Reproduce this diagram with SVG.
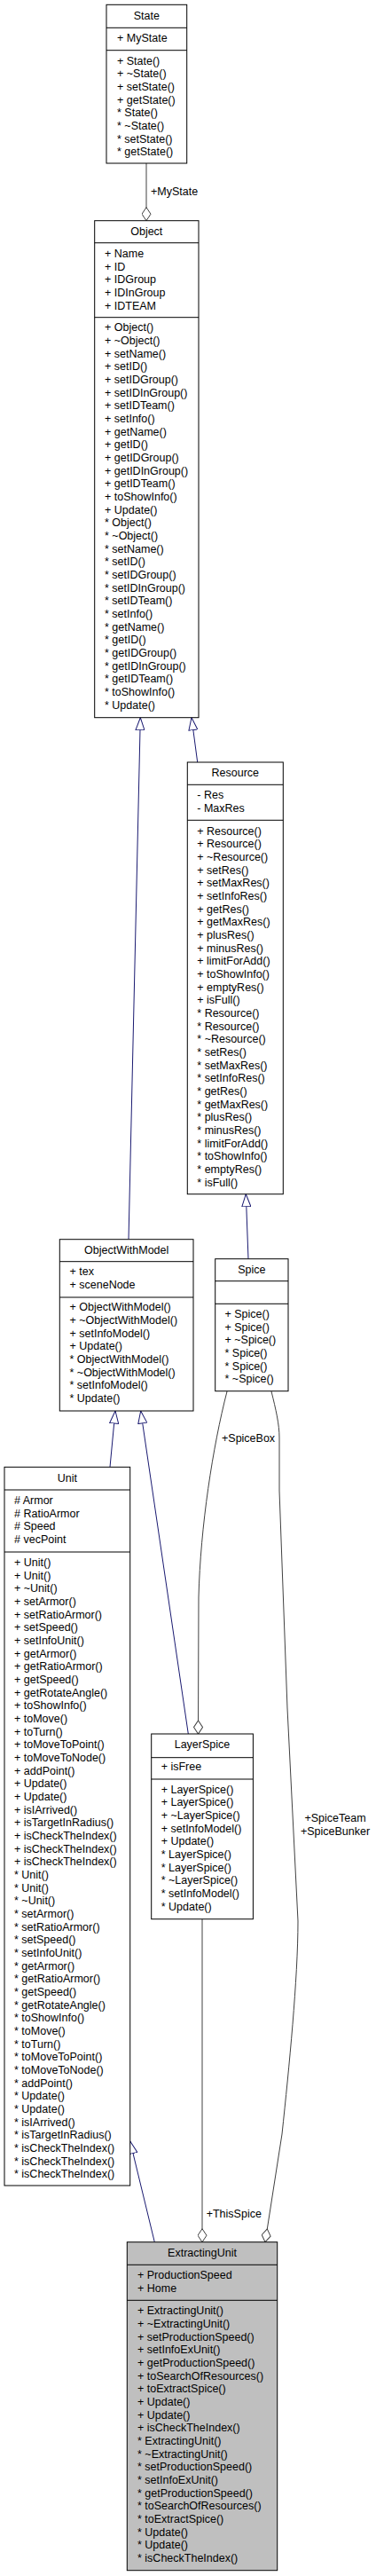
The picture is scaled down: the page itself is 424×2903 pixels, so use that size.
<svg xmlns="http://www.w3.org/2000/svg" width="424" height="2903" viewBox="0 0 424 2903">
<style>
.box{fill:#ffffff;stroke:#000000;stroke-width:1}
.gbox{fill:#bfbfbf;stroke:#000000;stroke-width:1}
.sep{stroke:#000000;stroke-width:1}
.t{font-family:"Liberation Sans",Arial,sans-serif;font-size:12.5px;fill:#000000}
.c{text-anchor:middle}
.inh{stroke:#191970;stroke-width:1;fill:none}
.agg{stroke:#404040;stroke-width:1;fill:none}
</style>
<defs>
<marker id="tri" markerUnits="userSpaceOnUse" markerWidth="15" markerHeight="11" viewBox="0 0 15 11" refX="14.5" refY="5.5" orient="auto">
<path d="M0.5,0.5 L14.5,5.5 L0.5,10.5 Z" fill="#ffffff" stroke="#191970" stroke-width="1"/>
</marker>
<marker id="dia" markerUnits="userSpaceOnUse" markerWidth="16" markerHeight="11" viewBox="0 0 16 11" refX="15.5" refY="5.5" orient="auto">
<path d="M0.5,5.5 L8,0.5 L15.5,5.5 L8,10.5 Z" fill="#ffffff" stroke="#404040" stroke-width="1"/>
</marker>
</defs>

<g id="connectors">
<path class="agg" d="M165,184 L165,248.7" marker-end="url(#dia)"/>
<text class="t" x="170" y="220">+MyState</text>
<path class="inh" d="M145,1396.7 L158.3,808.7" marker-end="url(#tri)"/>
<path class="inh" d="M222.7,859 L216,808.7" marker-end="url(#tri)"/>
<path class="inh" d="M280,1418.7 L277.3,1345.7" marker-end="url(#tri)"/>
<path class="inh" d="M124,1653.3 L130,1590" marker-end="url(#tri)"/>
<path class="inh" d="M212.3,1954 L158.7,1590" marker-end="url(#tri)"/>
<path class="inh" d="M174.3,2526.7 L146.7,2413" marker-end="url(#tri)"/>
<path class="agg" d="M256,1568 C240,1630 226,1720 224,1800 L223.5,1954" marker-end="url(#dia)"/>
<text class="t" x="250" y="1625">+SpiceBox</text>
<path class="agg" d="M306,1568 C311,1588 315,1605 315,1620 L315,1680 L324,1925 L336,2165 C336,2230 326,2330 318,2405 L299,2526.7" marker-end="url(#dia)"/>
<text class="t c" x="378" y="2053.3">+SpiceTeam</text>
<text class="t c" x="378" y="2068">+SpiceBunker</text>
<path class="agg" d="M228,2162.7 L228,2526.7" marker-end="url(#dia)"/>
<text class="t" x="232.7" y="2499">+ThisSpice</text>
</g>

<g id="State">
<rect class="box" x="120" y="5.3" width="90.7" height="178.7"/>
<line class="sep" x1="120" y1="31.3" x2="210.7" y2="31.3"/>
<line class="sep" x1="120" y1="56.7" x2="210.7" y2="56.7"/>
<text class="t c" x="165.3" y="21.7">State</text>
<text class="t" x="132" y="46.7">+ MyState</text>
<text class="t" y="72.7"><tspan x="132">+ State()</tspan><tspan x="132" dy="14.667">+ ~State()</tspan><tspan x="132" dy="14.667">+ setState()</tspan><tspan x="132" dy="14.667">+ getState()</tspan><tspan x="132" dy="14.667">* State()</tspan><tspan x="132" dy="14.667">* ~State()</tspan><tspan x="132" dy="14.667">* setState()</tspan><tspan x="132" dy="14.667">* getState()</tspan></text>
</g>

<g id="Object">
<rect class="box" x="106.7" y="248.7" width="117.3" height="560"/>
<line class="sep" x1="106.7" y1="273.7" x2="224" y2="273.7"/>
<line class="sep" x1="106.7" y1="357.7" x2="224" y2="357.7"/>
<text class="t c" x="165.3" y="264.5">Object</text>
<text class="t" y="290"><tspan x="118">+ Name</tspan><tspan x="118" dy="14.667">+ ID</tspan><tspan x="118" dy="14.667">+ IDGroup</tspan><tspan x="118" dy="14.667">+ IDInGroup</tspan><tspan x="118" dy="14.667">+ IDTEAM</tspan></text>
<text class="t" y="373.3"><tspan x="118">+ Object()</tspan><tspan x="118" dy="14.667">+ ~Object()</tspan><tspan x="118" dy="14.667">+ setName()</tspan><tspan x="118" dy="14.667">+ setID()</tspan><tspan x="118" dy="14.667">+ setIDGroup()</tspan><tspan x="118" dy="14.667">+ setIDInGroup()</tspan><tspan x="118" dy="14.667">+ setIDTeam()</tspan><tspan x="118" dy="14.667">+ setInfo()</tspan><tspan x="118" dy="14.667">+ getName()</tspan><tspan x="118" dy="14.667">+ getID()</tspan><tspan x="118" dy="14.667">+ getIDGroup()</tspan><tspan x="118" dy="14.667">+ getIDInGroup()</tspan><tspan x="118" dy="14.667">+ getIDTeam()</tspan><tspan x="118" dy="14.667">+ toShowInfo()</tspan><tspan x="118" dy="14.667">+ Update()</tspan><tspan x="118" dy="14.667">* Object()</tspan><tspan x="118" dy="14.667">* ~Object()</tspan><tspan x="118" dy="14.667">* setName()</tspan><tspan x="118" dy="14.667">* setID()</tspan><tspan x="118" dy="14.667">* setIDGroup()</tspan><tspan x="118" dy="14.667">* setIDInGroup()</tspan><tspan x="118" dy="14.667">* setIDTeam()</tspan><tspan x="118" dy="14.667">* setInfo()</tspan><tspan x="118" dy="14.667">* getName()</tspan><tspan x="118" dy="14.667">* getID()</tspan><tspan x="118" dy="14.667">* getIDGroup()</tspan><tspan x="118" dy="14.667">* getIDInGroup()</tspan><tspan x="118" dy="14.667">* getIDTeam()</tspan><tspan x="118" dy="14.667">* toShowInfo()</tspan><tspan x="118" dy="14.667">* Update()</tspan></text>
</g>

<g id="Resource">
<rect class="box" x="211.3" y="859" width="108" height="486.7"/>
<line class="sep" x1="211.3" y1="884.3" x2="319.3" y2="884.3"/>
<line class="sep" x1="211.3" y1="924.3" x2="319.3" y2="924.3"/>
<text class="t c" x="265.3" y="875">Resource</text>
<text class="t" y="900"><tspan x="222.3">- Res</tspan><tspan x="222.3" dy="14.667">- MaxRes</tspan></text>
<text class="t" y="940.7"><tspan x="222.3">+ Resource()</tspan><tspan x="222.3" dy="14.667">+ Resource()</tspan><tspan x="222.3" dy="14.667">+ ~Resource()</tspan><tspan x="222.3" dy="14.667">+ setRes()</tspan><tspan x="222.3" dy="14.667">+ setMaxRes()</tspan><tspan x="222.3" dy="14.667">+ setInfoRes()</tspan><tspan x="222.3" dy="14.667">+ getRes()</tspan><tspan x="222.3" dy="14.667">+ getMaxRes()</tspan><tspan x="222.3" dy="14.667">+ plusRes()</tspan><tspan x="222.3" dy="14.667">+ minusRes()</tspan><tspan x="222.3" dy="14.667">+ limitForAdd()</tspan><tspan x="222.3" dy="14.667">+ toShowInfo()</tspan><tspan x="222.3" dy="14.667">+ emptyRes()</tspan><tspan x="222.3" dy="14.667">+ isFull()</tspan><tspan x="222.3" dy="14.667">* Resource()</tspan><tspan x="222.3" dy="14.667">* Resource()</tspan><tspan x="222.3" dy="14.667">* ~Resource()</tspan><tspan x="222.3" dy="14.667">* setRes()</tspan><tspan x="222.3" dy="14.667">* setMaxRes()</tspan><tspan x="222.3" dy="14.667">* setInfoRes()</tspan><tspan x="222.3" dy="14.667">* getRes()</tspan><tspan x="222.3" dy="14.667">* getMaxRes()</tspan><tspan x="222.3" dy="14.667">* plusRes()</tspan><tspan x="222.3" dy="14.667">* minusRes()</tspan><tspan x="222.3" dy="14.667">* limitForAdd()</tspan><tspan x="222.3" dy="14.667">* toShowInfo()</tspan><tspan x="222.3" dy="14.667">* emptyRes()</tspan><tspan x="222.3" dy="14.667">* isFull()</tspan></text>
</g>

<g id="ObjectWithModel">
<rect class="box" x="67.3" y="1396.7" width="150.7" height="193.3"/>
<line class="sep" x1="67.3" y1="1421.7" x2="218" y2="1421.7"/>
<line class="sep" x1="67.3" y1="1462" x2="218" y2="1462"/>
<text class="t c" x="142.7" y="1413.3">ObjectWithModel</text>
<text class="t" y="1437.3"><tspan x="78.5">+ tex</tspan><tspan x="78.5" dy="14.667">+ sceneNode</tspan></text>
<text class="t" y="1477.3"><tspan x="78.5">+ ObjectWithModel()</tspan><tspan x="78.5" dy="14.667">+ ~ObjectWithModel()</tspan><tspan x="78.5" dy="14.667">+ setInfoModel()</tspan><tspan x="78.5" dy="14.667">+ Update()</tspan><tspan x="78.5" dy="14.667">* ObjectWithModel()</tspan><tspan x="78.5" dy="14.667">* ~ObjectWithModel()</tspan><tspan x="78.5" dy="14.667">* setInfoModel()</tspan><tspan x="78.5" dy="14.667">* Update()</tspan></text>
</g>

<g id="Spice">
<rect class="box" x="242.7" y="1418.7" width="82.3" height="149"/>
<line class="sep" x1="242.7" y1="1443.7" x2="325" y2="1443.7"/>
<line class="sep" x1="242.7" y1="1469.3" x2="325" y2="1469.3"/>
<text class="t c" x="283.8" y="1435">Spice</text>
<text class="t" y="1485"><tspan x="253.5">+ Spice()</tspan><tspan x="253.5" dy="14.667">+ Spice()</tspan><tspan x="253.5" dy="14.667">+ ~Spice()</tspan><tspan x="253.5" dy="14.667">* Spice()</tspan><tspan x="253.5" dy="14.667">* Spice()</tspan><tspan x="253.5" dy="14.667">* ~Spice()</tspan></text>
</g>

<g id="Unit">
<rect class="box" x="5" y="1653.3" width="141.7" height="809.7"/>
<line class="sep" x1="5" y1="1679" x2="146.7" y2="1679"/>
<line class="sep" x1="5" y1="1749" x2="146.7" y2="1749"/>
<text class="t c" x="75.8" y="1670">Unit</text>
<text class="t" y="1695"><tspan x="16"># Armor</tspan><tspan x="16" dy="14.667"># RatioArmor</tspan><tspan x="16" dy="14.667"># Speed</tspan><tspan x="16" dy="14.667"># vecPoint</tspan></text>
<text class="t" y="1765"><tspan x="16">+ Unit()</tspan><tspan x="16" dy="14.667">+ Unit()</tspan><tspan x="16" dy="14.667">+ ~Unit()</tspan><tspan x="16" dy="14.667">+ setArmor()</tspan><tspan x="16" dy="14.667">+ setRatioArmor()</tspan><tspan x="16" dy="14.667">+ setSpeed()</tspan><tspan x="16" dy="14.667">+ setInfoUnit()</tspan><tspan x="16" dy="14.667">+ getArmor()</tspan><tspan x="16" dy="14.667">+ getRatioArmor()</tspan><tspan x="16" dy="14.667">+ getSpeed()</tspan><tspan x="16" dy="14.667">+ getRotateAngle()</tspan><tspan x="16" dy="14.667">+ toShowInfo()</tspan><tspan x="16" dy="14.667">+ toMove()</tspan><tspan x="16" dy="14.667">+ toTurn()</tspan><tspan x="16" dy="14.667">+ toMoveToPoint()</tspan><tspan x="16" dy="14.667">+ toMoveToNode()</tspan><tspan x="16" dy="14.667">+ addPoint()</tspan><tspan x="16" dy="14.667">+ Update()</tspan><tspan x="16" dy="14.667">+ Update()</tspan><tspan x="16" dy="14.667">+ isIArrived()</tspan><tspan x="16" dy="14.667">+ isTargetInRadius()</tspan><tspan x="16" dy="14.667">+ isCheckTheIndex()</tspan><tspan x="16" dy="14.667">+ isCheckTheIndex()</tspan><tspan x="16" dy="14.667">+ isCheckTheIndex()</tspan><tspan x="16" dy="14.667">* Unit()</tspan><tspan x="16" dy="14.667">* Unit()</tspan><tspan x="16" dy="14.667">* ~Unit()</tspan><tspan x="16" dy="14.667">* setArmor()</tspan><tspan x="16" dy="14.667">* setRatioArmor()</tspan><tspan x="16" dy="14.667">* setSpeed()</tspan><tspan x="16" dy="14.667">* setInfoUnit()</tspan><tspan x="16" dy="14.667">* getArmor()</tspan><tspan x="16" dy="14.667">* getRatioArmor()</tspan><tspan x="16" dy="14.667">* getSpeed()</tspan><tspan x="16" dy="14.667">* getRotateAngle()</tspan><tspan x="16" dy="14.667">* toShowInfo()</tspan><tspan x="16" dy="14.667">* toMove()</tspan><tspan x="16" dy="14.667">* toTurn()</tspan><tspan x="16" dy="14.667">* toMoveToPoint()</tspan><tspan x="16" dy="14.667">* toMoveToNode()</tspan><tspan x="16" dy="14.667">* addPoint()</tspan><tspan x="16" dy="14.667">* Update()</tspan><tspan x="16" dy="14.667">* Update()</tspan><tspan x="16" dy="14.667">* isIArrived()</tspan><tspan x="16" dy="14.667">* isTargetInRadius()</tspan><tspan x="16" dy="14.667">* isCheckTheIndex()</tspan><tspan x="16" dy="14.667">* isCheckTheIndex()</tspan><tspan x="16" dy="14.667">* isCheckTheIndex()</tspan></text>
</g>

<g id="LayerSpice">
<rect class="box" x="170.7" y="1954" width="114.7" height="208.7"/>
<line class="sep" x1="170.7" y1="1980.7" x2="285.3" y2="1980.7"/>
<line class="sep" x1="170.7" y1="2005" x2="285.3" y2="2005"/>
<text class="t c" x="228" y="1970">LayerSpice</text>
<text class="t" x="181.7" y="1995">+ isFree</text>
<text class="t" y="2020.7"><tspan x="181.7">+ LayerSpice()</tspan><tspan x="181.7" dy="14.667">+ LayerSpice()</tspan><tspan x="181.7" dy="14.667">+ ~LayerSpice()</tspan><tspan x="181.7" dy="14.667">+ setInfoModel()</tspan><tspan x="181.7" dy="14.667">+ Update()</tspan><tspan x="181.7" dy="14.667">* LayerSpice()</tspan><tspan x="181.7" dy="14.667">* LayerSpice()</tspan><tspan x="181.7" dy="14.667">* ~LayerSpice()</tspan><tspan x="181.7" dy="14.667">* setInfoModel()</tspan><tspan x="181.7" dy="14.667">* Update()</tspan></text>
</g>

<g id="ExtractingUnit">
<rect class="gbox" x="143.3" y="2526.7" width="169.4" height="370"/>
<line class="sep" x1="143.3" y1="2552.3" x2="312.7" y2="2552.3"/>
<line class="sep" x1="143.3" y1="2592.3" x2="312.7" y2="2592.3"/>
<text class="t c" x="228" y="2542.7">ExtractingUnit</text>
<text class="t" y="2568.3"><tspan x="155">+ ProductionSpeed</tspan><tspan x="155" dy="14.667">+ Home</tspan></text>
<text class="t" y="2608.3"><tspan x="155">+ ExtractingUnit()</tspan><tspan x="155" dy="14.667">+ ~ExtractingUnit()</tspan><tspan x="155" dy="14.667">+ setProductionSpeed()</tspan><tspan x="155" dy="14.667">+ setInfoExUnit()</tspan><tspan x="155" dy="14.667">+ getProductionSpeed()</tspan><tspan x="155" dy="14.667">+ toSearchOfResources()</tspan><tspan x="155" dy="14.667">+ toExtractSpice()</tspan><tspan x="155" dy="14.667">+ Update()</tspan><tspan x="155" dy="14.667">+ Update()</tspan><tspan x="155" dy="14.667">+ isCheckTheIndex()</tspan><tspan x="155" dy="14.667">* ExtractingUnit()</tspan><tspan x="155" dy="14.667">* ~ExtractingUnit()</tspan><tspan x="155" dy="14.667">* setProductionSpeed()</tspan><tspan x="155" dy="14.667">* setInfoExUnit()</tspan><tspan x="155" dy="14.667">* getProductionSpeed()</tspan><tspan x="155" dy="14.667">* toSearchOfResources()</tspan><tspan x="155" dy="14.667">* toExtractSpice()</tspan><tspan x="155" dy="14.667">* Update()</tspan><tspan x="155" dy="14.667">* Update()</tspan><tspan x="155" dy="14.667">* isCheckTheIndex()</tspan></text>
</g>
</svg>
